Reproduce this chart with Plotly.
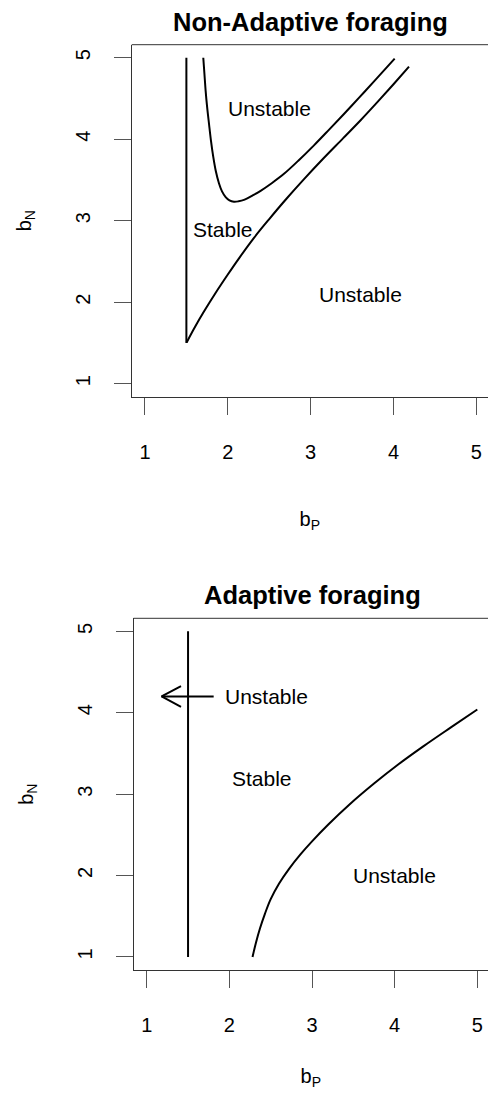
import math
import plotly.graph_objects as go

# ------------------------------------------------------------------ data
tick_vals = [1, 2, 3, 4, 5]
tick_text = ["1", "2", "3", "4", "5"]

# Non-Adaptive foraging (top panel)
na_vert_bP = [1.5, 1.5]
na_vert_bN = [5.0, 1.5]

na_upper_bP = [1.704, 1.718, 1.732, 1.750, 1.773, 1.797, 1.825, 1.855, 1.893, 1.930,
               1.974, 2.020, 2.074, 2.130, 2.195, 2.300, 2.396, 2.530, 2.678, 2.860,
               3.040, 3.220, 3.402, 3.585, 3.765, 4.014]
na_upper_bN = [5.000, 4.800, 4.600, 4.400, 4.190, 3.980, 3.780, 3.610, 3.460, 3.360,
               3.290, 3.250, 3.233, 3.238, 3.255, 3.310, 3.367, 3.460, 3.575, 3.745,
               3.925, 4.115, 4.310, 4.510, 4.710, 4.990]

na_lower_bP = [1.503, 1.600, 1.712, 1.850, 2.000, 2.150, 2.316, 2.500, 2.700, 2.920,
               3.150, 3.390, 3.600, 3.805, 4.000, 4.187]
na_lower_bN = [1.506, 1.690, 1.885, 2.110, 2.340, 2.560, 2.790, 3.020, 3.260, 3.510,
               3.760, 4.010, 4.230, 4.455, 4.675, 4.890]

na_label_text = ["Unstable", "Stable", "Unstable"]
na_label_bP = [2.50, 1.94, 3.60]
na_label_bN = [4.38, 2.89, 2.09]

# Adaptive foraging (bottom panel)
af_vert_bP = [1.5, 1.5]
af_vert_bN = [1.0, 5.0]

af_curve_bP = [2.28, 2.32, 2.37, 2.43, 2.50, 2.60, 2.72, 2.86, 3.00, 3.20, 3.45, 3.75,
               4.05, 4.35, 4.68, 5.00]
af_curve_bN = [1.00, 1.17, 1.35, 1.53, 1.71, 1.90, 2.08, 2.26, 2.42, 2.63, 2.87, 3.13,
               3.37, 3.59, 3.82, 4.04]

af_arrow_tail = (1.81, 4.2)
af_arrow_head = (1.18, 4.2)

af_label_text = ["Unstable", "Stable", "Unstable"]
af_label_bP = [2.45, 2.40, 4.00]
af_label_bN = [4.20, 3.19, 2.00]

titles = ["Non-Adaptive foraging", "Adaptive foraging"]
x_title = "b<sub>P</sub>"
y_title = "b<sub>N</sub>"

# ------------------------------------------------------------------ layout geometry
W, H = 488, 1105
FONT = "Liberation Sans, Arial, Helvetica, sans-serif"
AX_MIN = 0.84
Y_RANGE = [0.84, 5.16]

# pixel boxes of the two plot regions (left, top, bottom), x scale (px per unit),
# and the stand-off of the x-axis title
top_box = dict(left=131.7, top=44.7, bottom=396.7, xs=82.85, xt_standoff=50)
bot_box = dict(left=133.5, top=618.3, bottom=970.0, xs=82.65, xt_standoff=33)


def xdom(b):
    return [b["left"] / W, 1.0]


def ydom(b):
    return [1 - b["bottom"] / H, 1 - b["top"] / H]


def xrange(b):
    return [AX_MIN, AX_MIN + (W - b["left"]) / b["xs"]]


fig = go.Figure()

LINE = dict(color="black", width=2)
SMOOTH = dict(color="black", width=2, shape="spline", smoothing=1.0)

# top panel traces
fig.add_trace(go.Scatter(x=na_vert_bP, y=na_vert_bN, mode="lines", line=LINE,
                         xaxis="x", yaxis="y", showlegend=False, hoverinfo="skip"))
fig.add_trace(go.Scatter(x=na_upper_bP, y=na_upper_bN, mode="lines", line=SMOOTH,
                         xaxis="x", yaxis="y", showlegend=False, hoverinfo="skip"))
fig.add_trace(go.Scatter(x=na_lower_bP, y=na_lower_bN, mode="lines", line=SMOOTH,
                         xaxis="x", yaxis="y", showlegend=False, hoverinfo="skip"))

# bottom panel traces
fig.add_trace(go.Scatter(x=af_vert_bP, y=af_vert_bN, mode="lines", line=LINE,
                         xaxis="x2", yaxis="y2", showlegend=False, hoverinfo="skip"))
fig.add_trace(go.Scatter(x=af_curve_bP, y=af_curve_bN, mode="lines", line=SMOOTH,
                         xaxis="x2", yaxis="y2", showlegend=False, hoverinfo="skip"))

# open arrow head (R style): arms computed in pixel space from the axis scale
ys_bot = (bot_box["bottom"] - bot_box["top"]) / (Y_RANGE[1] - Y_RANGE[0])
head_len_px, head_ang = 22.0, math.radians(28)
dx = head_len_px * math.cos(head_ang) / bot_box["xs"]
dy = head_len_px * math.sin(head_ang) / ys_bot
direction = 1 if af_arrow_tail[0] > af_arrow_head[0] else -1
hx, hy = af_arrow_head
tx, ty = af_arrow_tail
fig.add_trace(go.Scatter(
    x=[tx, hx, None, hx + direction * dx, hx, hx + direction * dx],
    y=[ty, hy, None, hy + dy, hy, hy - dy],
    mode="lines", line=LINE, xaxis="x2", yaxis="y2",
    showlegend=False, hoverinfo="skip"))

# ------------------------------------------------------------------ axes
def xaxis_cfg(b):
    return dict(
        domain=xdom(b), range=xrange(b), tickvals=tick_vals, ticktext=tick_text,
        ticks="outside", ticklen=17, tickwidth=1, tickcolor="#555",
        showline=True, linecolor="#333", linewidth=1, mirror=False,
        showgrid=False, zeroline=False, fixedrange=True,
        tickfont=dict(family=FONT, size=20, color="black"),
        ticklabelstandoff=20,
        title=dict(text=x_title, font=dict(family=FONT, size=20, color="black"),
                   standoff=b["xt_standoff"]),
    )


def yaxis_cfg(b):
    return dict(
        domain=ydom(b), range=Y_RANGE, tickvals=tick_vals, ticktext=tick_text,
        ticks="outside", ticklen=17, tickwidth=1, tickcolor="#555", tickangle=-90,
        showline=True, linecolor="#333", linewidth=1, mirror=False,
        showgrid=False, zeroline=False, fixedrange=True,
        tickfont=dict(family=FONT, size=20, color="black"),
        ticklabelstandoff=16,
        title=dict(text=y_title, font=dict(family=FONT, size=20, color="black"), standoff=34),
    )


xa1 = xaxis_cfg(top_box); xa1["anchor"] = "y"
ya1 = yaxis_cfg(top_box); ya1["anchor"] = "x"
xa2 = xaxis_cfg(bot_box); xa2["anchor"] = "y2"
ya2 = yaxis_cfg(bot_box); ya2["anchor"] = "x2"

LABEL_FONT = dict(family=FONT, size=21, color="black")
annotations = []
for t, xv, yv in zip(na_label_text, na_label_bP, na_label_bN):
    annotations.append(dict(text=t, x=xv, y=yv, xref="x", yref="y", showarrow=False,
                            font=LABEL_FONT))
for t, xv, yv in zip(af_label_text, af_label_bP, af_label_bN):
    annotations.append(dict(text=t, x=xv, y=yv, xref="x2", yref="y2", showarrow=False,
                            font=LABEL_FONT))

# panel titles centred over each plot region
for title, b, ypx in [(titles[0], top_box, 22.0), (titles[1], bot_box, 595.0)]:
    cx = (b["left"] + b["left"] + 4.32 * b["xs"]) / 2 / W
    annotations.append(dict(text="<b>" + title + "</b>", x=cx, y=1 - ypx / H,
                            xref="paper", yref="paper", xanchor="center", yanchor="middle",
                            showarrow=False, font=dict(family=FONT, size=25.5, color="black")))

# top edge of each plot box (right edge lies outside the picture)
shapes = []
for xr, yr in [("x domain", "y domain"), ("x2 domain", "y2 domain")]:
    shapes.append(dict(type="line", xref=xr, yref=yr, x0=0, x1=1, y0=1, y1=1,
                       line=dict(color="#333", width=1)))

fig.update_layout(
    width=W, height=H, margin=dict(l=0, r=0, t=0, b=0),
    paper_bgcolor="white", plot_bgcolor="white",
    xaxis=xa1, yaxis=ya1, xaxis2=xa2, yaxis2=ya2,
    annotations=annotations, shapes=shapes, showlegend=False,
    font=dict(family=FONT, color="black"),
)

fig.write_html(
    "out.html",
    config={"displayModeBar": False, "staticPlot": True},
    post_script="document.body.style.margin='0px';document.body.style.overflow='hidden';",
)
